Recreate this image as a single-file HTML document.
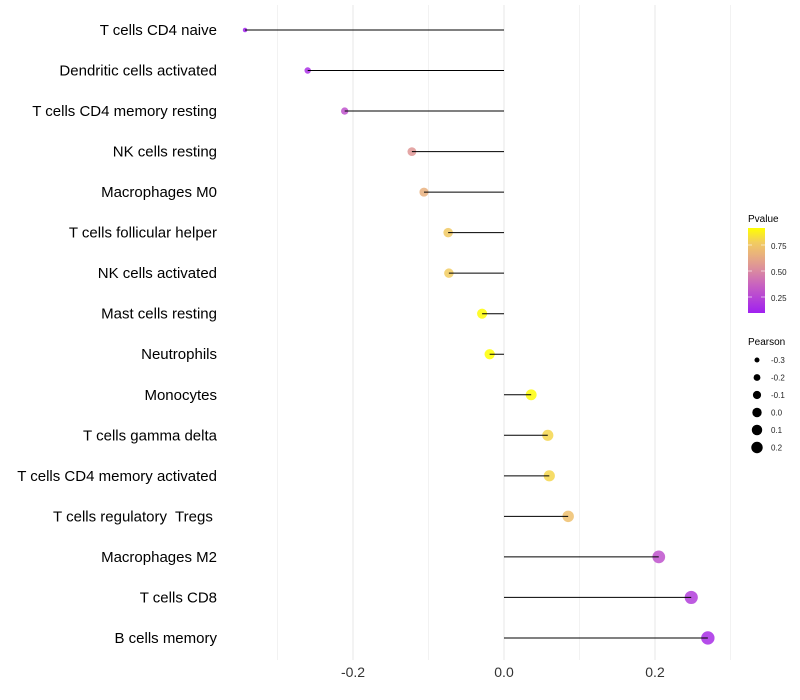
<!DOCTYPE html>
<html><head><meta charset="utf-8"><style>
body{margin:0;background:#fff;}
svg{display:block;font-family:"Liberation Sans",sans-serif;}
text{white-space:pre;}
</style></head><body>
<svg id="chart" width="800" height="700">
<defs><linearGradient id="pg" x1="0" y1="1" x2="0" y2="0">
<stop offset="0" stop-color="#A020F0"/><stop offset="0.33" stop-color="#C862C0"/><stop offset="0.5" stop-color="#DA8AA0"/><stop offset="0.67" stop-color="#E8AE80"/><stop offset="0.83" stop-color="#F2CC60"/><stop offset="1" stop-color="#FFFF00"/>
</linearGradient></defs>
<g id="grid"></g><g id="marks"></g><g id="labels"></g>
<g>
<text x="748" y="222" font-size="10" fill="#000">Pvalue</text>
<rect x="748" y="228" width="17" height="85" fill="url(#pg)"/>
<line x1="748" y1="245" x2="752" y2="245" stroke="#fff" opacity="0.6"/><line x1="761" y1="245" x2="765" y2="245" stroke="#fff" opacity="0.6"/>
<line x1="748" y1="271" x2="752" y2="271" stroke="#fff" opacity="0.6"/><line x1="761" y1="271" x2="765" y2="271" stroke="#fff" opacity="0.6"/>
<line x1="748" y1="297" x2="752" y2="297" stroke="#fff" opacity="0.6"/><line x1="761" y1="297" x2="765" y2="297" stroke="#fff" opacity="0.6"/>
<text x="771" y="249" font-size="8" fill="#222">0.75</text>
<text x="771" y="275" font-size="8" fill="#222">0.50</text>
<text x="771" y="301" font-size="8" fill="#222">0.25</text>
</g>
<g id="sizeLegend">
<text x="748" y="345" font-size="10" fill="#000">Pearson</text>
</g>
</svg>
<script>
const categories=["T cells CD4 naive","Dendritic cells activated","T cells CD4 memory resting","NK cells resting","Macrophages M0","T cells follicular helper","NK cells activated","Mast cells resting","Neutrophils","Monocytes","T cells gamma delta","T cells CD4 memory activated","T cells regulatory  Tregs ","Macrophages M2","T cells CD8","B cells memory"];
const pearson=[-0.343,-0.260,-0.211,-0.122,-0.106,-0.074,-0.073,-0.029,-0.019,0.036,0.058,0.060,0.085,0.205,0.248,0.270];
const pvalue=[0.10,0.16,0.30,0.55,0.65,0.76,0.77,0.90,0.91,0.90,0.80,0.80,0.72,0.30,0.22,0.15];
const xTicks=[-0.2,0,0.2];
const xTickLabels=["-0.2","0.0","0.2"];
const minorTicks=[-0.3,-0.1,0.1,0.3];
const legendSizes=[-0.3,-0.2,-0.1,0.0,0.1,0.2];
const legendSizeLabels=["-0.3","-0.2","-0.1","0.0","0.1","0.2"];

const NS="http://www.w3.org/2000/svg";
const xs=v=>504+v*755;
const ys=i=>30+i*40.53;
const rs=v=>Math.sqrt(5+Math.max(0,v+0.343)*65);
const stops=[[0,[160,32,240]],[0.33,[200,98,192]],[0.5,[218,138,160]],[0.67,[232,174,128]],[0.83,[242,204,96]],[1,[255,255,0]]];
function col(p){let t=(p-0.096)/(0.91-0.096);t=Math.max(0,Math.min(1,t));
for(let k=1;k<stops.length;k++){if(t<=stops[k][0]){const a=stops[k-1],b=stops[k];const f=(t-a[0])/(b[0]-a[0]);
return "rgb("+a[1].map((c,j)=>Math.round(c+(b[1][j]-c)*f)).join(",")+")";}}return "rgb(255,255,0)";}
function mk(tag,attrs,parent){const e=document.createElementNS(NS,tag);for(const k in attrs)e.setAttribute(k,attrs[k]);parent.appendChild(e);return e;}
const grid=document.getElementById('grid'),marks=document.getElementById('marks'),labels=document.getElementById('labels');
minorTicks.forEach(v=>{const l=mk('line',{x1:xs(v),x2:xs(v),y1:5,y2:660,stroke:'#f2f2f2','stroke-width':1},grid);

});
xTicks.forEach((v,i)=>{const l=mk('line',{x1:xs(v),x2:xs(v),y1:5,y2:660,stroke:'#ebebeb','stroke-width':1.2},grid);


const t=mk('text',{x:xs(v),y:677,'font-size':14,'text-anchor':'middle',fill:'#333'},labels);t.textContent=xTickLabels[i];

});
categories.forEach((c,i)=>{
const y=ys(i);
const cir=mk('circle',{cx:xs(pearson[i]),cy:y,r:rs(pearson[i]),fill:col(pvalue[i]),'fill-opacity':0.85},marks);


const ln=mk('line',{x1:xs(pearson[i]),x2:xs(0),y1:y,y2:y,stroke:'#000','stroke-width':1},marks);


const t=mk('text',{x:217,y:y+5,'font-size':15,'text-anchor':'end',fill:'#000'},labels);t.textContent=c;


});
const sl=document.getElementById('sizeLegend');
legendSizes.forEach((v,i)=>{const y=360+i*17.5;
const c=mk('circle',{cx:757,cy:y,r:rs(v)*0.9,fill:'#000'},sl);


const t=mk('text',{x:771,y:y+3,'font-size':8,fill:'#222'},sl);t.textContent=legendSizeLabels[i];

});
</script>
</body></html>
